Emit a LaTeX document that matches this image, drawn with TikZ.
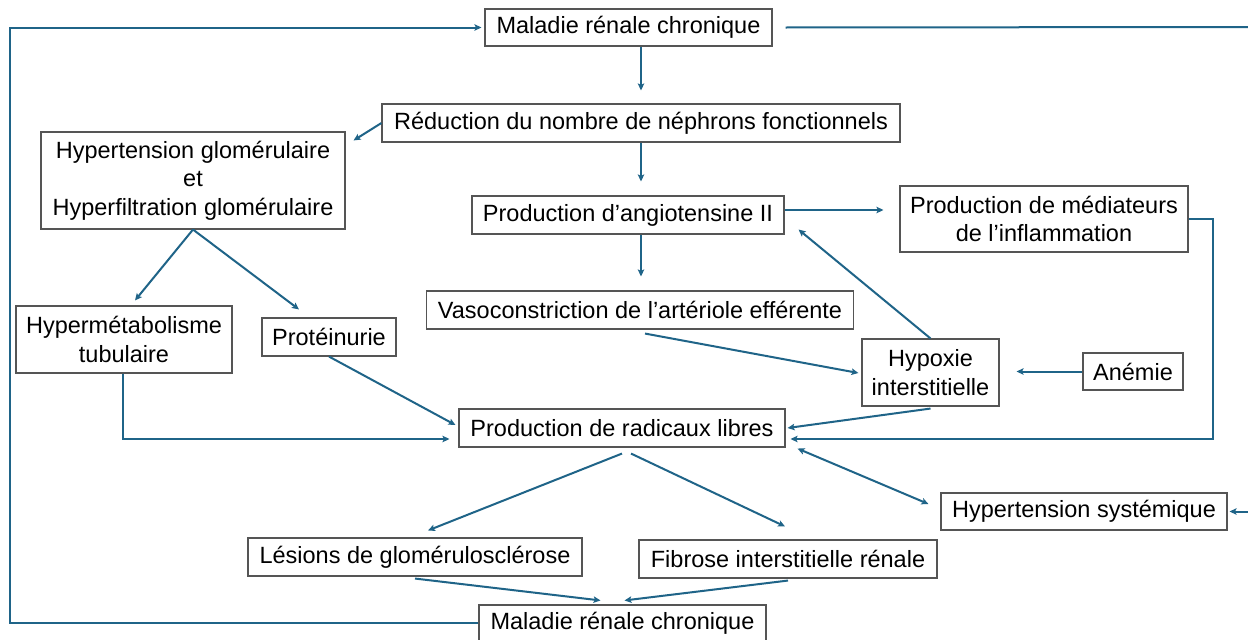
\documentclass[tikz,border=0pt]{standalone}
\usepackage{fontspec}
\setmainfont{Liberation Sans}
\usetikzlibrary{calc,arrows.meta}
\definecolor{linkblue}{RGB}{31,100,136}
\definecolor{boxgray}{RGB}{85,85,85}
\begin{document}
\begin{tikzpicture}[x=1pt,y=-1pt,
  box/.style={draw=boxgray, line width=1.1pt, inner sep=0pt, align=center,
    font=\fontsize{23.5}{28.5}\selectfont, text=black, fill=white},
  conn/.style={draw=linkblue, line width=2pt},
  arr/.style={conn, -{Stealth[length=7pt,width=6.5pt,inset=1.5pt]}},
  darr/.style={conn, {Stealth[length=7pt,width=6.5pt,inset=1.5pt]}-{Stealth[length=7pt,width=6.5pt,inset=1.5pt]}}]
\useasboundingbox (0,0) rectangle (1248,640);
\fill[white] (0,0) rectangle (1248,640);

\node[box, minimum width=287pt, minimum height=37pt] (mrc1) at (628.5,27.5) {Maladie rénale chronique};
\node[box, minimum width=518pt, minimum height=38pt] (red) at (641,123) {Réduction du nombre de néphrons fonctionnels};
\node[box, minimum width=304pt, minimum height=97pt] (hg) at (193,180.5) {Hypertension glomérulaire\\et\\Hyperfiltration glomérulaire};
\node[box, minimum width=312pt, minimum height=38pt] (ang) at (628,215) {Production d’angiotensine II};
\node[box, minimum width=288pt, minimum height=66pt] (med) at (1044,219) {Production de médiateurs\\de l’inflammation};
\node[box, minimum width=427pt, minimum height=38pt] (vaso) at (640,310) {Vasoconstriction de l’artériole efférente};
\node[box, minimum width=216pt, minimum height=67pt] (hmt) at (124,339.5) {Hypermétabolisme\\tubulaire};
\node[box, minimum width=134pt, minimum height=38pt] (prot) at (329,337) {Protéinurie};
\node[box, minimum width=137pt, minimum height=67pt] (hyp) at (930.5,372.5) {Hypoxie\\interstitielle};
\node[box, minimum width=100pt, minimum height=37pt] (anem) at (1133,371.5) {Anémie};
\node[box, minimum width=326pt, minimum height=38pt] (rad) at (622,428) {Production de radicaux libres};
\node[box, minimum width=286pt, minimum height=37pt] (hsys) at (1084,511.5) {Hypertension systémique};
\node[box, minimum width=334pt, minimum height=38pt] (les) at (415,557) {Lésions de glomérulosclérose};
\node[box, minimum width=298pt, minimum height=38pt] (fib) at (788,559) {Fibrose interstitielle rénale};
\node[box, minimum width=287pt, minimum height=36pt] (mrc2) at (622.5,623) {Maladie rénale chronique};

\coordinate (re1) at (1250,27);
\coordinate (re2) at (1250,511.5);
\coordinate (lx) at (10,0);

% connectors
\draw[arr] (red.north |- mrc1.south) -- ($(red.north)+(0,-13)$);
\draw[arr] (red.west) -- ($(hg.north east)+(8,9)$);
\draw[arr] (red.south) -- ($(red.south |- ang.north)+(0,-14)$);
\draw[arr] ($(ang.east)+(0,-5)$) -- ($(med.west |- ang.east)+(-16,-5)$);
\draw[arr] (med.east) -- ++(24,0) |- ($(rad.east)+(5,11)$);
\draw[arr] ($(ang.south)+(13,0)$) -- ($(vaso.north)+(1,-14)$);
\draw[arr] ($(vaso.south)+(5,4)$) -- ($(hyp.west)+(-3,0.5)$);
\draw[arr] (hyp.north) -- ($(ang.south east)+(14,-5)$);
\draw[arr] (anem.west) -- ($(anem.west -| hyp.east)+(17,0)$);
\draw[arr] ($(hyp.south)+(0,2)$) -- ($(rad.east)+(2,0)$);
\draw[arr] (hg.south) -- ($(hmt.north)+(11,-5)$);
\draw[arr] (hg.south) -- ($(prot.north)+(-30,-8)$);
\draw[arr] ($(hmt.south)+(-1,0)$) |- ($(rad.west)+(-9,11)$);
\draw[arr] (prot.south) -- ($(rad.west)+(-3,-3)$);
\draw[darr] ($(rad.south east)+(12,1)$) -- ($(hsys.west)+(-12,-7.5)$);
\draw[arr] (re2) -- ($(hsys.east)+(2,0)$);
\draw[conn] ($(mrc1.east)+(13,0)$) -- (re1);
\draw[arr, shorten >=3pt] (mrc2.west) -- (mrc2.west -| lx) |- (mrc1.west);
\draw[arr] ($(rad.south)+(0,6)$) -- ($(les.north)+(13,-7)$);
\draw[arr] ($(rad.south)+(9,6)$) -- ($(fib.north)+(-3,-13)$);
\draw[arr] ($(les.south)+(0,2)$) -- ($(mrc2.north)+(-22,-4)$);
\draw[arr] ($(fib.south)+(0,2)$) -- ($(mrc2.north)+(2,-4)$);
\end{tikzpicture}
\end{document}
